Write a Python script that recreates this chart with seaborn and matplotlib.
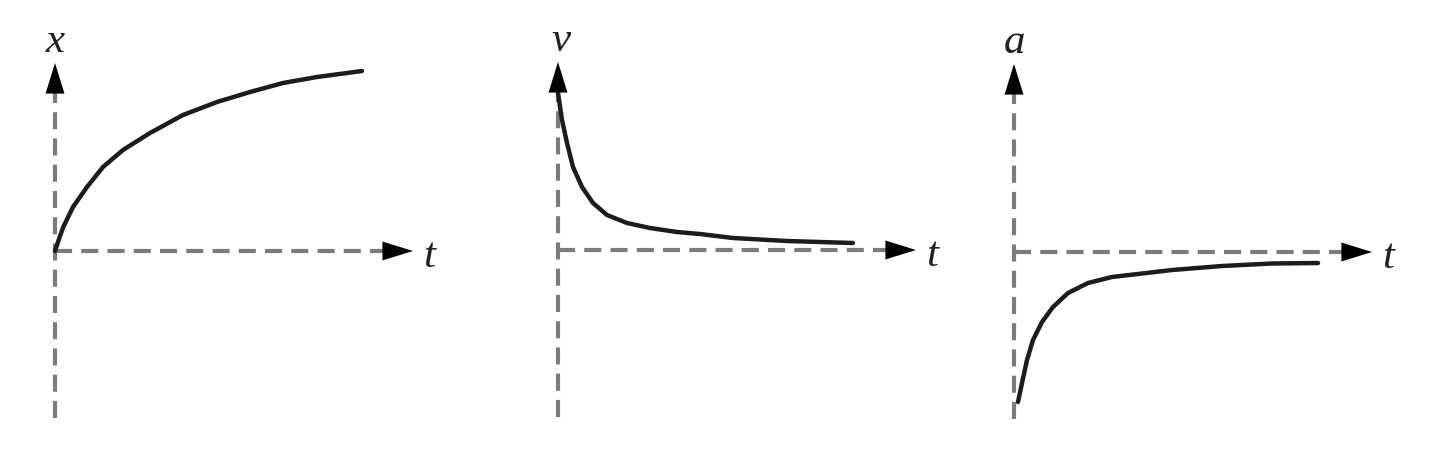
import matplotlib
matplotlib.use("Agg")
import matplotlib.pyplot as plt
import seaborn as sns
import pandas as pd

# ---- data (arbitrary units, origin = axis crossing) ----
t_x = [0.0, 0.04, 0.083, 0.18, 0.32, 0.48, 0.68, 0.95, 1.28, 1.62, 1.95, 2.28, 2.62, 3.07]
x_vals = [0.0, 0.12, 0.24, 0.44, 0.64, 0.84, 1.01, 1.18, 1.36, 1.49, 1.59, 1.68, 1.74, 1.80]

t_v = [0.0, 0.04, 0.09, 0.15, 0.24, 0.35, 0.49, 0.69, 0.92, 1.19, 1.42, 1.75, 2.29, 2.95]
v_vals = [1.57, 1.30, 1.07, 0.83, 0.63, 0.47, 0.35, 0.27, 0.22, 0.18, 0.16, 0.12, 0.09, 0.07]

t_a = [0.04, 0.08, 0.13, 0.19, 0.28, 0.39, 0.54, 0.74, 0.98, 1.24, 1.58, 2.08, 2.58, 3.04]
a_vals = [-1.50, -1.31, -1.08, -0.88, -0.70, -0.55, -0.41, -0.31, -0.25, -0.22, -0.18, -0.14, -0.115, -0.11]

y_labels = ["x", "v", "a"]
t_label = "t"

sns.set_theme(style="white")
plt.rcParams["font.family"] = ["Liberation Serif", "DejaVu Serif"]

W, H = 1440, 449
fig = plt.figure(figsize=(W / 100, H / 100), dpi=100)

panels = [
    (t_x, x_vals, 55, 251, y_labels[0], 0.0),
    (t_v, v_vals, 558, 250, y_labels[1], 0.03),
    (t_a, a_vals, 1014, 252, y_labels[2], 0.0),
]

axis_color = "#7c7c7c"
curve_color = "#1c1c1c"

for i, (tt, yy, ox, oy, lab, lab_dx) in enumerate(panels):
    left = i * 480
    ax = fig.add_axes([left / W, 0, 480 / W, 1])
    ax.set_xlim(-(ox - left) / 100, (left + 480 - ox) / 100)
    ax.set_ylim(-(H - oy) / 100, oy / 100)
    ax.axis("off")

    # dashed axes
    ax.plot([0, 0], [-1.67, 1.60], color=axis_color, lw=3.0,
            dashes=(4.1, 2.2), dash_capstyle="butt")
    ax.plot([0, 3.30], [0, 0], color=axis_color, lw=3.0,
            dashes=(4.1, 2.2), dash_capstyle="butt")
    # arrowheads
    for tip, base in [((0, 1.88), (0, 1.58)), ((3.58, 0), (3.28, 0))]:
        ax.annotate("", xy=tip, xytext=base,
                    arrowprops=dict(arrowstyle="-|>,head_length=1.1,head_width=0.34",
                                    color="black", lw=0.01, mutation_scale=20,
                                    shrinkA=0, shrinkB=0))

    df = pd.DataFrame({"t": tt, "y": yy})
    sns.lineplot(data=df, x="t", y="y", ax=ax, color=curve_color, lw=3.2,
                 sort=False, estimator=None, solid_joinstyle="round",
                 solid_capstyle="round")
    ax.set_xlabel("")
    ax.set_ylabel("")

    ax.text(lab_dx, 1.99, lab, fontsize=31, style="italic",
            ha="center", va="baseline", color="#222222")
    ax.text(3.74, -0.16, t_label, fontsize=31, style="italic",
            ha="center", va="baseline", color="#222222")

fig.savefig("out.png", dpi=100)
